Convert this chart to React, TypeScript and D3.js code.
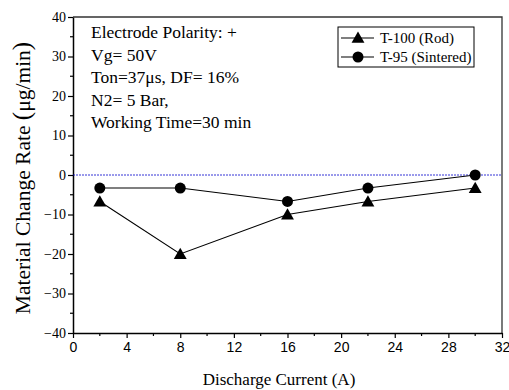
import React, { useRef, useEffect } from 'react';
import * as d3 from 'd3';

const currents = [2, 8, 16, 22, 30];
const rodRate = [-6.7, -20, -10, -6.7, -3.3];
const sinteredRate = [-3.3, -3.3, -6.7, -3.3, 0];
const xTicks = [0, 4, 8, 12, 16, 20, 24, 28, 32];
const yTicks = [-40, -30, -20, -10, 0, 10, 20, 30, 40];
const notes = ['Electrode Polarity: +', 'Vg= 50V', 'Ton=37\u03bcs, DF= 16%', 'N2= 5 Bar,', 'Working Time=30 min'];

export default function App() {
  const svgRef = useRef<SVGSVGElement>(null);
  const width = 509, height = 390;
  const margin = { top: 17, right: 7, bottom: 57, left: 73 };

  useEffect(() => {
    const svg = d3.select(svgRef.current);
    svg.selectAll('*').remove();

    const x = d3.scaleLinear().domain([0, 32]).range([margin.left, width - margin.right]);
    const y = d3.scaleLinear().domain([-40, 40]).range([height - margin.bottom, margin.top]);
    const serif = "'Liberation Serif', 'Times New Roman', 'DejaVu Serif', serif";
    const sans = "'Liberation Sans', Arial, sans-serif";

    // frame (top + right)
    svg.append('path')
      .attr('d', `M${x(0)},${y(40)}H${x(32)}V${y(-40)}`)
      .attr('fill', 'none').attr('stroke', '#333').attr('stroke-width', 1.3);

    // minor ticks
    svg.append('g').selectAll('line').data(d3.range(2, 32, 4)).join('line')
      .attr('x1', d => x(d)).attr('x2', d => x(d))
      .attr('y1', y(-40)).attr('y2', y(-40) + 3)
      .attr('stroke', '#000').attr('stroke-width', 1.2);
    svg.append('g').selectAll('line').data(d3.range(-35, 40, 10)).join('line')
      .attr('x1', x(0)).attr('x2', x(0) - 3)
      .attr('y1', d => y(d)).attr('y2', d => y(d))
      .attr('stroke', '#000').attr('stroke-width', 1.2);

    // x axis
    svg.append('g')
      .attr('transform', `translate(0,${y(-40)})`)
      .call(d3.axisBottom(x).tickValues(xTicks).tickSize(5).tickSizeOuter(0).tickPadding(4))
      .call(g => g.select('.domain').attr('stroke-width', 1.5))
      .call(g => g.selectAll('.tick line').attr('stroke-width', 1.2))
      .call(g => g.selectAll('.tick text').attr('font-size', 14).attr('font-family', sans).attr('fill', '#000'));

    // y axis
    svg.append('g')
      .attr('transform', `translate(${x(0)},0)`)
      .call(d3.axisLeft(y).tickValues(yTicks).tickSize(5).tickSizeOuter(0).tickPadding(2))
      .call(g => g.select('.domain').attr('stroke-width', 1.5))
      .call(g => g.selectAll('.tick line').attr('stroke-width', 1.2))
      .call(g => g.selectAll('.tick text').attr('font-size', 14).attr('font-family', serif).attr('fill', '#000'));

    // zero reference line
    svg.append('line')
      .attr('x1', x(0)).attr('x2', x(32))
      .attr('y1', y(0)).attr('y2', y(0))
      .attr('stroke', '#0000cc').attr('stroke-width', 0.8).attr('stroke-dasharray', '2,1');

    const line = d3.line<number>().x((_, i) => x(currents[i])).y(d => y(d));
    const tri = d3.symbol().type(d3.symbolTriangle).size(72);
    const circ = d3.symbol().type(d3.symbolCircle).size(95);

    [
      { values: sinteredRate, sym: circ, dy: 0 },
      { values: rodRate, sym: tri, dy: 1.2 },
    ].forEach(s => {
      svg.append('path').datum(s.values)
        .attr('fill', 'none').attr('stroke', '#000').attr('stroke-width', 1.1)
        .attr('d', line);
      svg.append('g').selectAll('path').data(s.values).join('path')
        .attr('transform', (d, i) => `translate(${x(currents[i])},${y(d) + s.dy})`)
        .attr('d', s.sym).attr('fill', '#000');
    });

    // annotation
    svg.append('g').selectAll('text').data(notes).join('text')
      .attr('x', 91).attr('y', (_, i) => 38 + i * 22.5)
      .attr('font-size', 17.5).attr('font-family', serif).attr('fill', '#000')
      .text(d => d);

    // legend
    const lg = svg.append('g').attr('transform', 'translate(338,27)');
    lg.append('rect').attr('width', 136).attr('height', 40)
      .attr('fill', '#fff').attr('stroke', '#000').attr('stroke-width', 1);
    const items = [
      { label: 'T-100 (Rod)', sym: tri, dy: 1 },
      { label: 'T-95 (Sintered)', sym: circ, dy: 0 },
    ];
    items.forEach((it, i) => {
      const cy = 11 + i * 19;
      lg.append('line').attr('x1', 3).attr('x2', 36).attr('y1', cy).attr('y2', cy)
        .attr('stroke', '#000').attr('stroke-width', 1.1);
      lg.append('path').attr('transform', `translate(20,${cy + it.dy})`).attr('d', it.sym).attr('fill', '#000');
      lg.append('text').attr('x', 42).attr('y', cy + 5)
        .attr('font-size', 15).attr('font-family', serif).attr('fill', '#000').text(it.label);
    });

    // axis titles
    svg.append('text')
      .attr('x', 279).attr('y', 385)
      .attr('text-anchor', 'middle')
      .attr('font-size', 17).attr('font-family', serif).attr('fill', '#000')
      .text('Discharge Current (A)');

    const yl = svg.append('text')
      .attr('transform', `translate(30,178) rotate(-90)`)
      .attr('text-anchor', 'middle')
      .attr('font-size', 21.5).attr('font-family', serif).attr('fill', '#000');
    yl.append('tspan').text('Material Change Rate ');
    yl.append('tspan').attr('font-size', 25).text('(');
    yl.append('tspan').text('\u03bcg/min');
    yl.append('tspan').attr('font-size', 25).text(')');
  }, []);

  return (
    <svg ref={svgRef} width={width} height={height}
      style={{ position: 'absolute', left: 0, top: 0, background: '#fff' }} />
  );
}
